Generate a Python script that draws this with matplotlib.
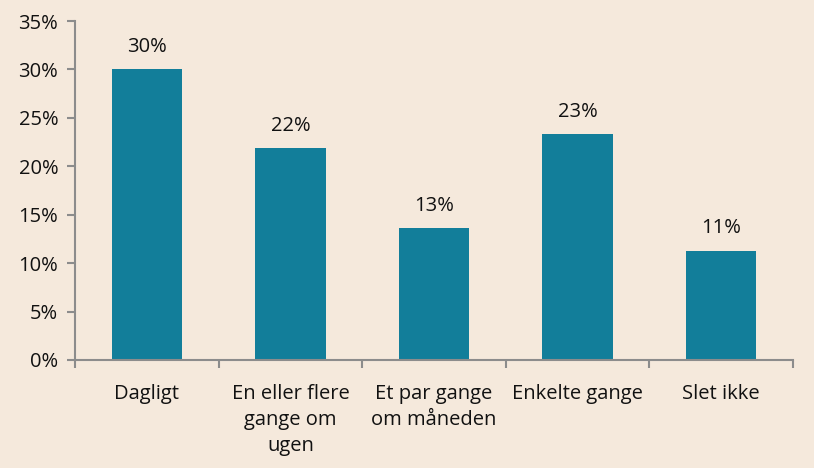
import matplotlib.pyplot as plt
import numpy as np

categories = ["Dagligt", "En eller flere\ngange om\nugen", "Et par gange\nom måneden",
              "Enkelte gange", "Slet ikke"]
values = [30.0, 21.9, 13.6, 23.3, 11.3]
labels = ["30%", "22%", "13%", "23%", "11%"]
yticks = [0, 5, 10, 15, 20, 25, 30, 35]

bg = "#F5E9DC"
bar_color = "#127E9A"
axis_color = "#8C8C8C"

plt.rcParams['font.family'] = ['Open Sans', 'DejaVu Sans']
fs = 14.5

fig = plt.figure(figsize=(8.14, 4.68), dpi=100, facecolor=bg)
ax = fig.add_axes([0.0921, 0.2308, 0.8821, 0.7242])
ax.set_facecolor(bg)

x = np.arange(len(categories))
ax.bar(x, values, width=0.49, color=bar_color)
for xi, v, lab in zip(x, values, labels):
    ax.text(xi, v + 1.25, lab, ha='center', va='bottom', fontsize=fs, color='#111111')

ax.set_xlim(-0.5, len(categories) - 0.5)
ax.set_ylim(0, 35)
ax.set_yticks(yticks)
ax.set_yticklabels([f"{t}%" for t in yticks], fontsize=fs, color='#111111')
ax.set_xticks(x)
ax.set_xticklabels(categories, fontsize=fs, color='#111111', linespacing=1.4, va='top')
ax.set_xticks(np.arange(-0.5, len(categories)), minor=True)
ax.tick_params(axis='x', which='major', length=0, pad=17)
ax.tick_params(axis='x', which='minor', length=6, color=axis_color, width=1.5)
ax.tick_params(axis='y', length=6, color=axis_color, width=1.5, pad=6)

for s in ['top', 'right']:
    ax.spines[s].set_visible(False)
for s in ['left', 'bottom']:
    ax.spines[s].set_color(axis_color)
    ax.spines[s].set_linewidth(1.5)

fig.savefig("out.png", dpi=100, facecolor=bg)
